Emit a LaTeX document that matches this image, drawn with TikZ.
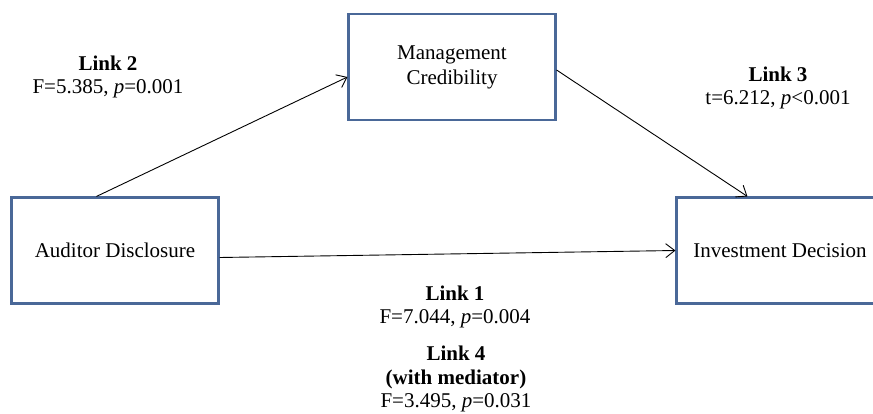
\documentclass[tikz,border=0pt]{standalone}
\usepackage{fontspec}
\setmainfont{Liberation Serif}
\usetikzlibrary{arrows.meta}
\definecolor{boxblue}{HTML}{4A6898}
\begin{document}
\begin{tikzpicture}[x=1pt,y=-1pt,
  box/.style={draw=boxblue,line width=2.1pt,fill=white,minimum width=207pt,minimum height=106pt,inner sep=0pt,align=center,font=\fontsize{21}{25}\selectfont},
  lbl/.style={align=center,inner sep=0pt,font=\fontsize{21}{23.5}\selectfont},
  conn/.style={line width=0.9pt,-{Straight Barb[length=9pt,width=14pt,line width=0.9pt]}}]
\useasboundingbox (0,0) rectangle (873,414);
\clip (0,0) rectangle (873,414);
\node[box] (aud) at (115,250.5) {Auditor Disclosure};
\node[box] (mgmt) at (452,67) {Management\\Credibility};
\node[box] (inv) at (780,250.5) {Investment Decision};
\coordinate (a2) at ([xshift=86pt]aud.north west);
\coordinate (a1) at ([yshift=-7pt]aud.east);
\coordinate (m3) at ([yshift=-3pt]mgmt.east);
\coordinate (i3) at ([xshift=72pt]inv.north west);
\coordinate (m2) at ([yshift=-10pt]mgmt.west);
\draw[conn] (a1) -- (inv.west);
\draw[conn] (a2) -- (m2);
\draw[conn] (m3) -- (i3);
\node[lbl] (l2) at (108,77) {\textbf{Link 2}\\F=5.385, \textit{p}=0.001};
\node[lbl] (l3) at (778,88) {\textbf{Link 3}\\t=6.212, \textit{p}<0.001};
\node[lbl] (l1) at (455,307) {\textbf{Link 1}\\F=7.044, \textit{p}=0.004};
\node[lbl] (l4) at (456,379) {\textbf{Link 4}\\\textbf{(with mediator)}\\F=3.495, \textit{p}=0.031};
\end{tikzpicture}
\end{document}
